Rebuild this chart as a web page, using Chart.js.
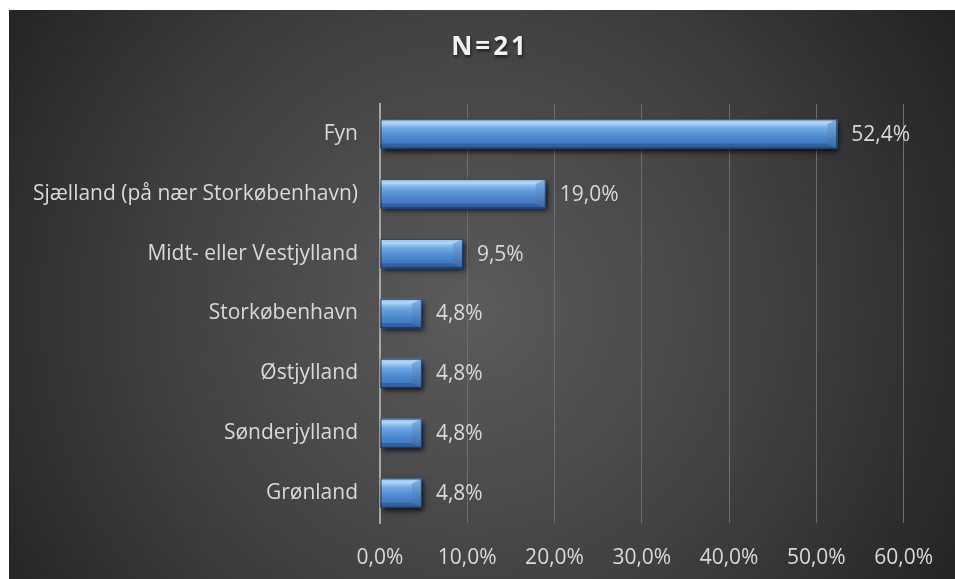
<!DOCTYPE html>
<html>
<head>
<meta charset="utf-8">
<script src="https://cdn.jsdelivr.net/npm/chart.js@4.4.0/dist/chart.umd.min.js"></script>
<style>
  html, body { margin: 0; padding: 0; background: #fff; }
  #wrap { width: 955px; height: 579px; }
</style>
</head>
<body>
<div id="wrap"><canvas id="regions" width="955" height="579"></canvas></div>
<script>
const regions = [
    'Fyn',
    'Sjælland (på nær Storkøbenhavn)',
    'Midt- eller Vestjylland',
    'Storkøbenhavn',
    'Østjylland',
    'Sønderjylland',
    'Grønland'
];
const shares = [52.4, 19.0, 9.5, 4.8, 4.8, 4.8, 4.8];
const titleText = 'N=21';

const FONT = '"Open Sans", "Noto Sans", sans-serif';
const pct = (v) => v.toFixed(1).replace('.', ',') + '%';

// dark panel with a soft radial light in the middle
const panelBg = {
    id: 'panelBg',
    beforeDraw(chart) {
        const c = chart.ctx;
        c.save();
        c.fillStyle = '#ffffff';
        c.fillRect(0, 0, chart.width, chart.height);
        const g = c.createRadialGradient(470, 310, 0, 470, 310, 560);
        g.addColorStop(0, '#5b5b5b');
        g.addColorStop(0.55, '#404040');
        g.addColorStop(1, '#232323');
        c.fillStyle = g;
        c.fillRect(9, 10, chart.width - 9, chart.height - 10);
        c.restore();
    }
};

const titleDraw = {
    id: 'titleDraw',
    afterDraw(chart) {
        const c = chart.ctx;
        c.save();
        c.font = 'bold 26px ' + FONT;
        c.letterSpacing = '3px';
        c.fillStyle = '#f2f2f2';
        c.textAlign = 'center';
        c.textBaseline = 'middle';
        c.shadowColor = 'rgba(0,0,0,0.6)';
        c.shadowOffsetX = 1;
        c.shadowOffsetY = 2;
        c.shadowBlur = 3;
        c.fillText(titleText, 490, 48);
        c.restore();
    }
};

// bevelled blue bars drawn from the bar elements the library laid out
const bevelBars = {
    id: 'bevelBars',
    afterDatasetsDraw(chart) {
        const c = chart.ctx;
        const meta = chart.getDatasetMeta(0);
        meta.data.forEach((bar, i) => {
            const x0 = bar.base, x1 = bar.x;
            const yT = bar.y - bar.height / 2, yB = bar.y + bar.height / 2;
            const w = x1 - x0, h = yB - yT;
            const b = Math.min(10, w / 4), bt = 5;

            c.save();
            c.shadowColor = 'rgba(0,0,0,0.75)';
            c.shadowBlur = 5;
            c.shadowOffsetX = 2;
            c.shadowOffsetY = 3;
            c.fillStyle = '#3f74b8';
            c.fillRect(x0, yT, w, h);
            c.restore();

            c.save();
            const g = c.createLinearGradient(0, yT, 0, yB);
            g.addColorStop(0, '#7fb3e6');
            g.addColorStop(0.14, '#a6d1f7');
            g.addColorStop(0.32, '#6fa7e2');
            g.addColorStop(0.6, '#4e89cf');
            g.addColorStop(1, '#3c6db0');
            c.fillStyle = g;
            c.fillRect(x0, yT, w, h);

            // top bevel
            c.beginPath();
            c.moveTo(x0, yT); c.lineTo(x1, yT); c.lineTo(x1 - b, yT + bt); c.lineTo(x0, yT + bt);
            c.closePath();
            c.fillStyle = 'rgba(200,230,255,0.3)';
            c.fill();
            // bottom bevel
            c.beginPath();
            c.moveTo(x0, yB); c.lineTo(x1, yB); c.lineTo(x1 - b, yB - bt); c.lineTo(x0, yB - bt);
            c.closePath();
            c.fillStyle = 'rgba(20,50,100,0.3)';
            c.fill();
            // right bevel
            c.beginPath();
            c.moveTo(x1, yT); c.lineTo(x1, yB); c.lineTo(x1 - b, yB - bt); c.lineTo(x1 - b, yT + bt);
            c.closePath();
            const gr = c.createLinearGradient(0, yT, 0, yB);
            gr.addColorStop(0, 'rgba(120,175,232,0.85)');
            gr.addColorStop(1, 'rgba(60,100,160,0.85)');
            c.fillStyle = gr;
            c.fill();

            c.strokeStyle = 'rgba(25,45,75,0.85)';
            c.lineWidth = 1;
            c.strokeRect(x0 + 0.5, yT + 0.5, w - 1, h - 1);
            c.restore();

            // value label
            c.save();
            c.font = '21px ' + FONT;
            c.fillStyle = '#d9d9d9';
            c.textAlign = 'left';
            c.textBaseline = 'middle';
            c.fillText(pct(shares[i]), x1 + 14, bar.y + 1);
            c.restore();
        });
    }
};

new Chart(document.getElementById('regions'), {
    type: 'bar',
    data: {
        labels: regions,
        datasets: [{
            data: shares,
            backgroundColor: 'rgba(0,0,0,0)',
            borderWidth: 0,
            barPercentage: 1,
            categoryPercentage: 0.49
        }]
    },
    options: {
        indexAxis: 'y',
        responsive: false,
        animation: false,
        layout: { padding: { top: 104, left: 9, right: 45, bottom: 0 } },
        plugins: {
            legend: { display: false },
            title: { display: false },
            tooltip: { enabled: false }
        },
        scales: {
            x: {
                min: 0,
                max: 60,
                ticks: {
                    stepSize: 10,
                    color: '#d9d9d9',
                    font: { family: FONT, size: 21 },
                    padding: 22,
                    maxRotation: 0,
                    callback: (v) => pct(v)
                },
                grid: { color: '#6e6e6e', lineWidth: 1, drawTicks: false },
                border: { display: false },
                afterFit(scale) { scale.height = 56; }
            },
            y: {
                ticks: {
                    color: '#d9d9d9',
                    font: { family: FONT, size: 21 },
                    padding: 22
                },
                grid: { display: false, drawTicks: false },
                border: { display: true, color: '#a6a6a6', width: 2 },
                afterFit(scale) { scale.width = 371; }
            }
        }
    },
    plugins: [panelBg, bevelBars, titleDraw]
});
</script>
</body>
</html>
